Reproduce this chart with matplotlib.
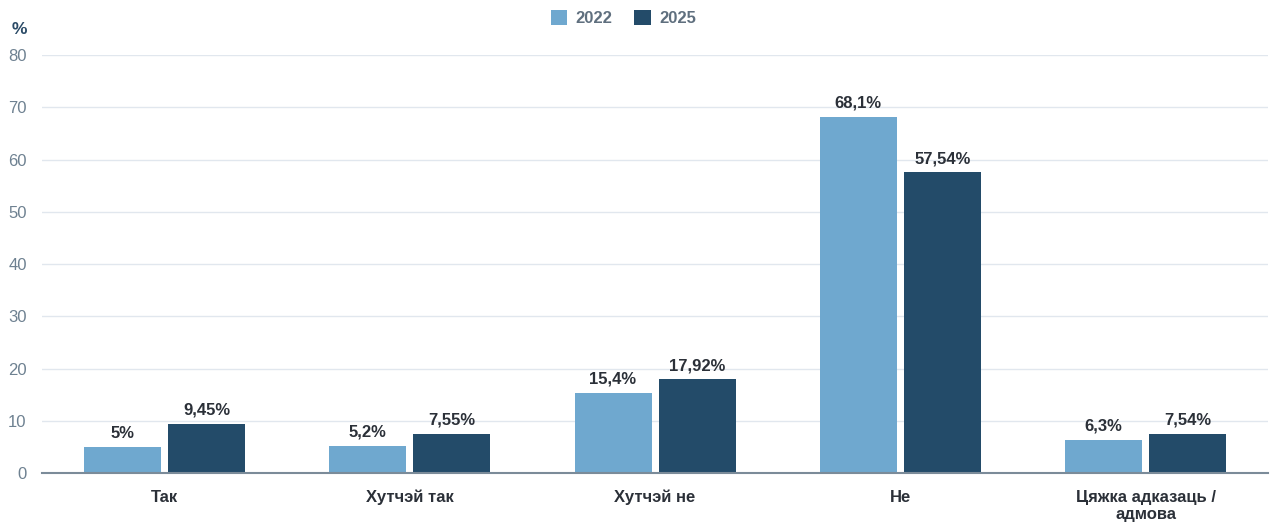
import matplotlib.pyplot as plt
import numpy as np

categories = ["Так", "Хутчэй так", "Хутчэй не", "Не", "Цяжка адказаць /\nадмова"]
values_2022 = [5, 5.2, 15.4, 68.1, 6.3]
values_2025 = [9.45, 7.55, 17.92, 57.54, 7.54]
labels_2022 = ["5%", "5,2%", "15,4%", "68,1%", "6,3%"]
labels_2025 = ["9,45%", "7,55%", "17,92%", "57,54%", "7,54%"]

LIGHT = "#6fa8cf"
DARK = "#234b69"
TEXT = "#2b3038"
TICK = "#6e8191"

plt.rcParams["font.family"] = ["Liberation Sans", "DejaVu Sans"]

fig = plt.figure(figsize=(12.72, 5.23), dpi=100)
ax = fig.add_axes([0.033, 0.0956, 0.964, 0.7992])

x = np.arange(len(categories))
w = 0.314
off = 0.1714
b1 = ax.bar(x - off, values_2022, w, color=LIGHT, label="2022", zorder=3)
b2 = ax.bar(x + off, values_2025, w, color=DARK, label="2025", zorder=3)

for rect, lab in zip(b1, labels_2022):
    ax.text(rect.get_x() + rect.get_width() / 2, rect.get_height() + 1.2, lab,
            ha="center", va="bottom", fontsize=12, fontweight="bold", color=TEXT)
for rect, lab in zip(b2, labels_2025):
    ax.text(rect.get_x() + rect.get_width() / 2, rect.get_height() + 1.2, lab,
            ha="center", va="bottom", fontsize=12, fontweight="bold", color=TEXT)

ax.set_xlim(-0.5, len(categories) - 0.5)
ax.set_ylim(0, 80)
ax.set_yticks(range(0, 81, 10))
ax.set_xticks(x)
ax.set_xticklabels(categories, fontsize=12, fontweight="bold", color=TEXT, linespacing=1.2)
ax.tick_params(axis="y", length=0, labelsize=12, labelcolor=TICK, pad=11)
ax.tick_params(axis="x", length=0, pad=12)

ax.grid(axis="y", color="#e1e7ee", linewidth=1, zorder=0)
for s in ["top", "right", "left"]:
    ax.spines[s].set_visible(False)
ax.spines["bottom"].set_color("#7b8b99")
ax.spines["bottom"].set_linewidth(1.5)
ax.spines["bottom"].set_zorder(4)

fig.text(0.009, 0.935, "%", fontsize=12.5, fontweight="bold", color="#2a4a66")

leg = fig.legend(loc="upper center", bbox_to_anchor=(0.49, 1.01), ncol=2, frameon=False,
                 handlelength=1.0, handleheight=1.0, handletextpad=0.5, columnspacing=1.3,
                 prop={"size": 12, "weight": "bold"})
for t in leg.get_texts():
    t.set_color("#5f6f7e")

fig.savefig("out.png", dpi=100)
